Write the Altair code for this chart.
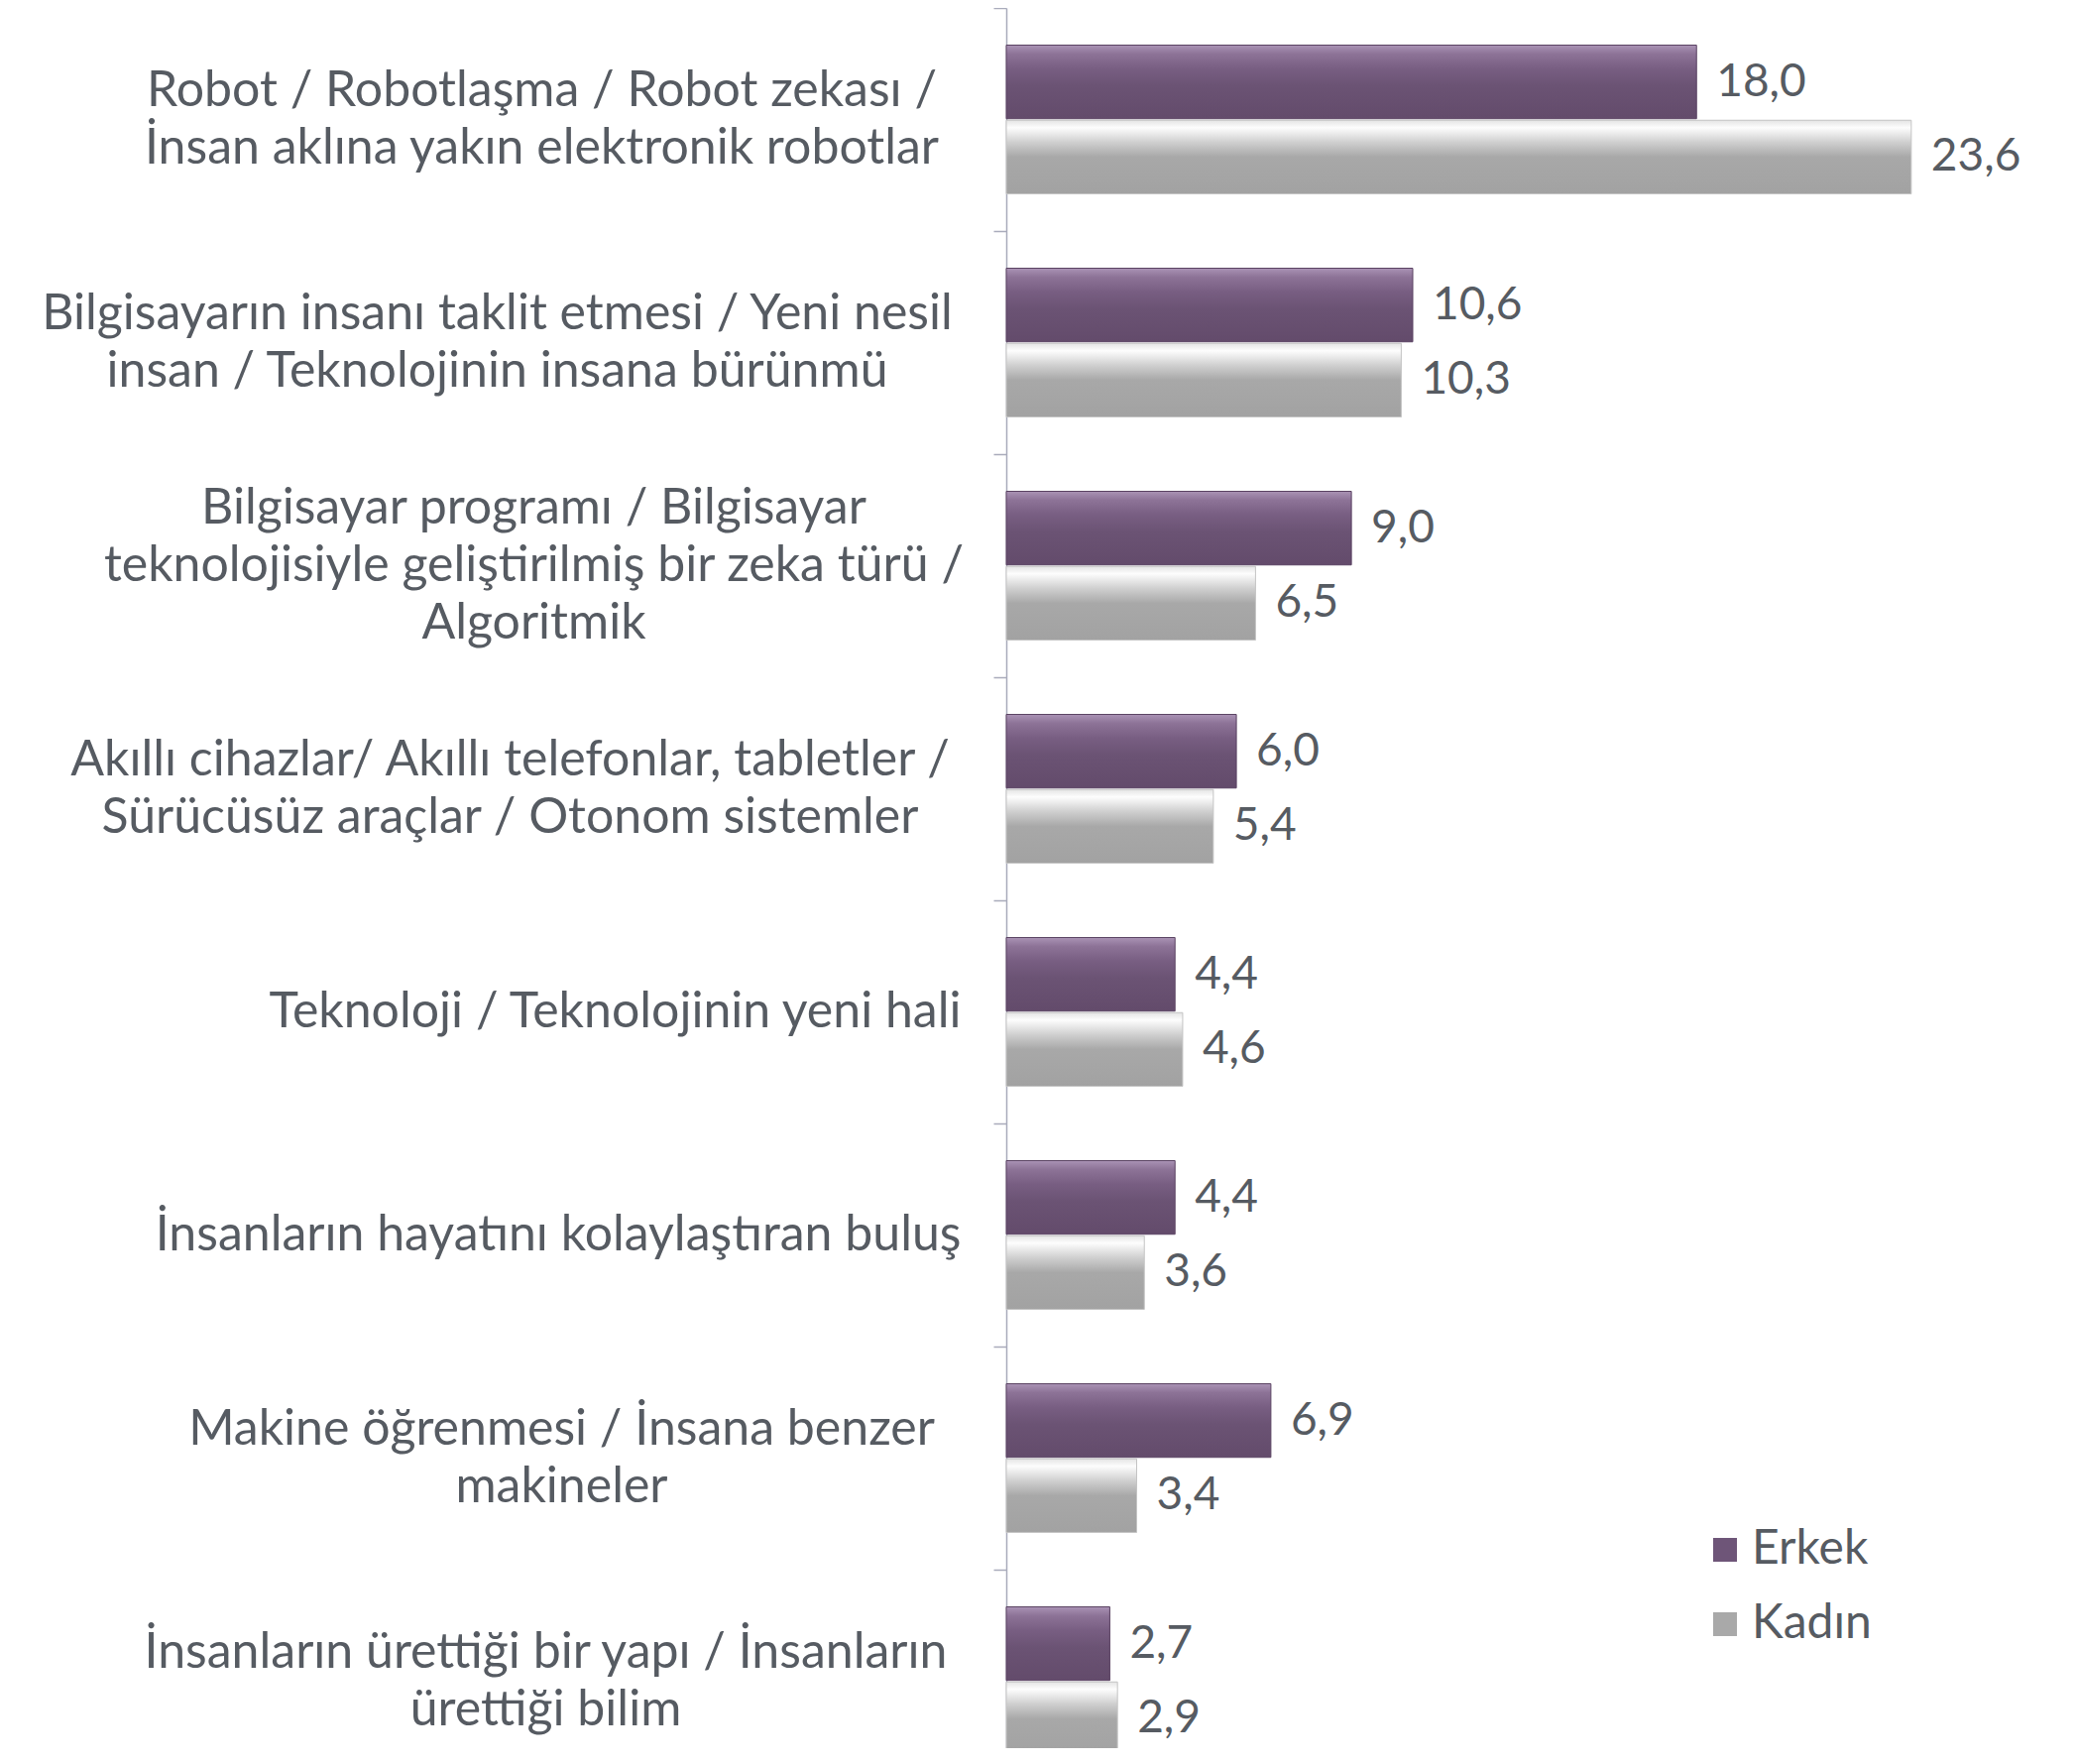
import altair as alt
import pandas as pd

categories = [
    "Robot / Robotlaşma / Robot zekası /\nİnsan aklına yakın elektronik robotlar",
    "Bilgisayarın insanı taklit etmesi / Yeni nesil\ninsan / Teknolojinin insana bürünmü",
    "Bilgisayar programı / Bilgisayar\nteknolojisiyle geliştirilmiş bir zeka türü /\nAlgoritmik",
    "Akıllı cihazlar/ Akıllı telefonlar, tabletler /\nSürücüsüz araçlar / Otonom sistemler",
    "Teknoloji / Teknolojinin yeni hali",
    "İnsanların hayatını kolaylaştıran buluş",
    "Makine öğrenmesi / İnsana benzer\nmakineler",
    "İnsanların ürettiği bir yapı / İnsanların\nürettiği bilim",
]
series = ["Erkek", "Kadın"]
erkek = [18.0, 10.6, 9.0, 6.0, 4.4, 4.4, 6.9, 2.7]
kadin = [23.6, 10.3, 6.5, 5.4, 4.6, 3.6, 3.4, 2.9]

# style: extra distance of each centred (multi-line) label block from the axis
LABEL_SHIFT = [0, 45, 8, 32, 0, 0, -20, -4]

rows = []
for c, e, k in zip(categories, erkek, kadin):
    rows.append({"category": c, "series": "Erkek", "value": e})
    rows.append({"category": c, "series": "Kadın", "value": k})
df = pd.DataFrame(rows)

FONT = "Lato"
TEXT_COLOR = "#565b62"
AXIS_COLOR = "#a9abbb"
STEP = 225
LINE_H = 58
n = len(categories)
shift_arr = "[" + ",".join(str(s) for s in LABEL_SHIFT) + "]"

y_enc = alt.Y(
    "category:N",
    sort=categories,
    scale=alt.Scale(domain=categories, range=[0, n * STEP], paddingInner=0.3333, paddingOuter=0.1667),
    axis=alt.Axis(
        title=None,
        domainColor=AXIS_COLOR,
        domainWidth=1.5,
        tickColor=AXIS_COLOR,
        tickWidth=1.5,
        tickSize=13,
        tickOffset=-STEP / 2,
        labelAlign={"condition": {"test": "indexof(datum.value, '\\n') < 0", "value": "right"}, "value": "center"},
        labelBaseline="middle",
        labelPadding=alt.ExprRef(
            expr=f"indexof(datum.value, '\\n') < 0 ? 33 : 456 + {shift_arr}[round(datum.index * {n - 1})]"
        ),
        labelOffset=alt.ExprRef(expr=f"{STEP / 2} - (length(split(datum.value, '\\n')) - 1) * {LINE_H / 2}"),
        labelFont=FONT,
        labelFontSize=50,
        labelLineHeight=LINE_H,
        labelColor=TEXT_COLOR,
        labelLimit=0,
        labelExpr="split(datum.label, '\\n')",
    ),
)
yoff = alt.YOffset("series:N", scale=alt.Scale(domain=series, paddingInner=0.02))
x_enc = alt.X("value:Q", scale=alt.Scale(domain=[0, 25], nice=False), axis=None)

purple = alt.Gradient(
    gradient="linear", x1=0, x2=0, y1=0, y2=1,
    stops=[
        alt.GradientStop(color="#aa93b5", offset=0),
        alt.GradientStop(color="#8d7397", offset=0.12),
        alt.GradientStop(color="#785e82", offset=0.32),
        alt.GradientStop(color="#6b5374", offset=0.55),
        alt.GradientStop(color="#634b6b", offset=1),
    ],
)
gray = alt.Gradient(
    gradient="linear", x1=0, x2=0, y1=0, y2=1,
    stops=[
        alt.GradientStop(color="#e4e4e4", offset=0),
        alt.GradientStop(color="#fdfdfd", offset=0.1),
        alt.GradientStop(color="#cfcfcf", offset=0.3),
        alt.GradientStop(color="#a8a8a8", offset=0.5),
        alt.GradientStop(color="#a2a2a2", offset=1),
    ],
)

base = alt.Chart(df)

bars_e = base.transform_filter(alt.datum.series == "Erkek").mark_bar(
    fill=purple, stroke="#5a4262", strokeWidth=1
).encode(x=x_enc, y=y_enc, yOffset=yoff)

bars_k = base.transform_filter(alt.datum.series == "Kadın").mark_bar(
    fill=gray, stroke="#c4c4c4", strokeWidth=1
).encode(x=x_enc, y=y_enc, yOffset=yoff)

labels = base.transform_calculate(
    txt="replace(format(datum.value, '.1f'), '.', ',')"
).mark_text(
    align="left", baseline="middle", dx=20, font=FONT, fontSize=46, color=TEXT_COLOR
).encode(x=x_enc, y=y_enc, yOffset=yoff, text="txt:N")

legend_layer = base.mark_square(opacity=0).encode(
    x=x_enc, y=y_enc, yOffset=yoff,
    color=alt.Color(
        "series:N",
        scale=alt.Scale(domain=series, range=["#6e5578", "#a9a9a9"]),
        legend=alt.Legend(
            title=None,
            orient="none",
            legendX=701,
            legendY=1531,
            symbolType="square",
            symbolSize=576,
            symbolOpacity=1,
            symbolStrokeWidth=0,
            labelFont=FONT,
            labelFontSize=48,
            labelColor=TEXT_COLOR,
            labelOffset=3,
            rowPadding=27,
            padding=0,
        ),
    ),
)

chart = alt.layer(bars_e, bars_k, labels, legend_layer).properties(
    width=967,
    height=1755,
    autosize=alt.AutoSizeParams(type="none"),
    padding={"left": 1007, "top": 0, "right": 100, "bottom": 0},
    background="white",
).configure_view(stroke=None)

chart.save("out.html", embed_options={"renderer": "svg", "actions": False})
